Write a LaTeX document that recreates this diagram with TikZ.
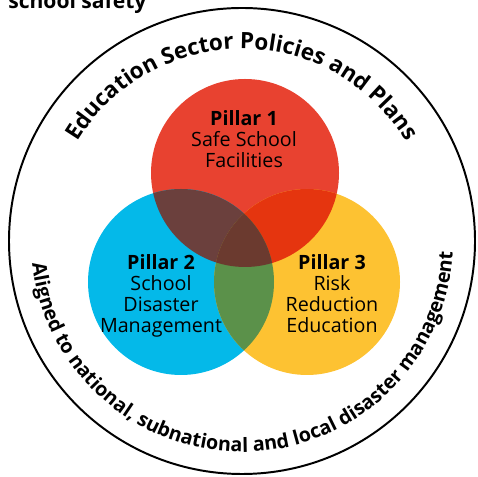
\documentclass[tikz,border=0pt]{standalone}
\usepackage{fontspec}
\setmainfont{Open Sans}
\usepackage{tikz}
\usetikzlibrary{decorations.text}
\definecolor{pillarRed}{HTML}{E84230}
\definecolor{pillarBlue}{HTML}{04B9E9}
\definecolor{pillarYellow}{HTML}{FDC232}
\definecolor{redBlue}{HTML}{6B403D}
\definecolor{redYellow}{HTML}{E5350F}
\definecolor{blueYellow}{HTML}{5B914A}
\definecolor{allThree}{HTML}{6B3A2F}
\tikzset{pillar/.style={align=center, inner sep=0pt, font=\fontsize{14}{15.1}\selectfont}}

\begin{document}
\begin{tikzpicture}[x=0.025cm, y=0.025cm]
  \useasboundingbox (0,0) rectangle (478,477);
  \coordinate (center) at (242,236);
  \coordinate (R) at (245,304);
  \coordinate (B) at (181,195);
  \coordinate (Y) at (307,195);
  % three pillars
  \fill[pillarRed] (R) circle[radius=94];
  \fill[pillarBlue] (B) circle[radius=93];
  \fill[pillarYellow] (Y) circle[radius=93];
  \begin{scope}
    \clip (R) circle[radius=94];
    \fill[redBlue] (B) circle[radius=93];
    \fill[redYellow] (Y) circle[radius=93];
  \end{scope}
  \begin{scope}
    \clip (B) circle[radius=93];
    \fill[blueYellow] (Y) circle[radius=93];
    \clip (R) circle[radius=94];
    \fill[allThree] (Y) circle[radius=93];
  \end{scope}
  \draw[line width=1.4pt] (center) circle[radius=233];
  % base anchor sits on the last line
  \node[pillar, anchor=base] (p1) at (244,309) {\textbf{Pillar 1}\\Safe School\\Facilities};
  \node[pillar, anchor=base] (p2) at (161,144) {\textbf{Pillar 2}\\School\\Disaster\\Management};
  \node[pillar, anchor=base] (p3) at (332,144) {\textbf{Pillar 3}\\Risk\\Reduction\\Education};
  % text round the ring
  \path[decorate, decoration={text along path, text align=center,
      text={|\bfseries\fontsize{16}{19}\selectfont|Education Sector Policies and Plans}}]
    (center) ++(150:192) arc[start angle=150, end angle=30, radius=192];
  \path[decorate, decoration={text along path, text align=center,
      text={|\bfseries\fontsize{14}{17}\selectfont|Aligned to national, subnational and local disaster management}}]
    (center) ++(184:211) arc[start angle=184, end angle=359, radius=211];
  \node[anchor=base west, inner sep=0pt, font=\bfseries\fontsize{15}{18}\selectfont] (title) at (8,468) {school safety};
\end{tikzpicture}
\end{document}
